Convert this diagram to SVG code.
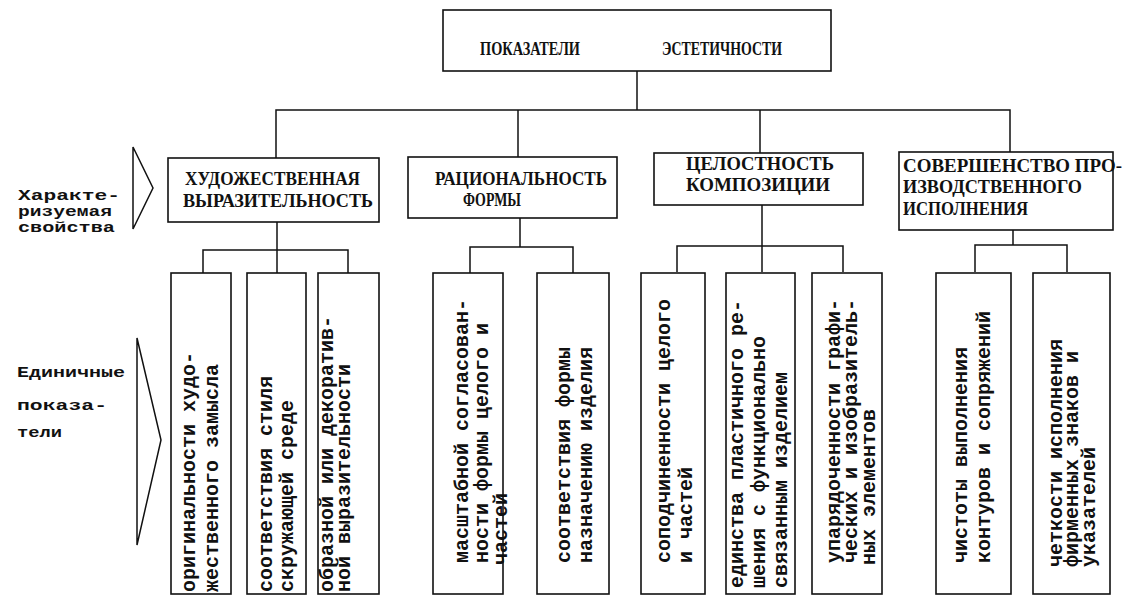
<svg xmlns="http://www.w3.org/2000/svg" width="1123" height="597" viewBox="0 0 1123 597">
<defs>
<style>
.bx{fill:none;stroke:#111;stroke-width:1.6}
.cn{fill:none;stroke:#111;stroke-width:1.5}
.cap{font-family:"Liberation Serif","DejaVu Serif",serif;font-weight:bold;font-size:19px;fill:#111}
.lab{font-family:"Liberation Mono","DejaVu Sans Mono",monospace;font-weight:bold;font-size:15px;fill:#111}
.rt{font-family:"Liberation Mono","DejaVu Sans Mono",monospace;font-weight:bold;font-size:20px;fill:#111}
</style>
</defs>
<rect width="1123" height="597" fill="#fff"/>

<g id="connectors">
<polyline class="cn" points="637,71 637,110"/>
<polyline class="cn" points="276,158 276,110 1010,110 1010,152"/>
<line class="cn" x1="518" y1="110" x2="518" y2="157"/>
<line class="cn" x1="760" y1="110" x2="760" y2="153"/>
<polyline class="cn" points="277,222 277,273"/>
<polyline class="cn" points="203,273 203,250 348,250 348,273"/>
<polyline class="cn" points="520,218 520,247"/>
<polyline class="cn" points="470,273 470,247 573,247 573,273"/>
<polyline class="cn" points="762,205 762,272"/>
<polyline class="cn" points="677,272 677,246 843,246 843,272"/>
<polyline class="cn" points="1013,230 1013,245"/>
<polyline class="cn" points="975,272 975,245 1067,245 1067,272"/>
</g>

<g id="label-harakter">
<polygon class="cn" points="133,147 153,188 133,229"/>
<text class="lab" x="18" y="200" textLength="102" lengthAdjust="spacingAndGlyphs">Характе-</text>
<text class="lab" x="18" y="216" textLength="94" lengthAdjust="spacingAndGlyphs">ризуемая</text>
<text class="lab" x="18" y="232" textLength="97" lengthAdjust="spacingAndGlyphs">свойства</text>
</g>
<g id="label-edinich">
<polygon class="cn" points="137,338 161,440 137,545"/>
<text class="lab" x="17" y="377" textLength="108" lengthAdjust="spacingAndGlyphs">Единичные</text>
<text class="lab" x="17" y="410" textLength="90" lengthAdjust="spacingAndGlyphs">показа-</text>
<text class="lab" x="17" y="437" textLength="45" lengthAdjust="spacingAndGlyphs">тели</text>
</g>

<g id="root">
<rect class="bx" x="443" y="10" width="388" height="61"/>
<text class="cap" x="480" y="55" font-size="18" textLength="100" lengthAdjust="spacingAndGlyphs">ПОКАЗАТЕЛИ</text>
<text class="cap" x="662" y="55" font-size="18" textLength="120" lengthAdjust="spacingAndGlyphs">ЭСТЕТИЧНОСТИ</text>
</g>

<g id="n1">
<rect class="bx" x="168" y="158" width="211" height="64"/>
<text class="cap" x="185" y="185" textLength="175" lengthAdjust="spacingAndGlyphs">ХУДОЖЕСТВЕННАЯ</text>
<text class="cap" x="183" y="207" textLength="190" lengthAdjust="spacingAndGlyphs">ВЫРАЗИТЕЛЬНОСТЬ</text>
</g>
<g id="n2">
<rect class="bx" x="408" y="157" width="209" height="61"/>
<text class="cap" x="435" y="185" textLength="172" lengthAdjust="spacingAndGlyphs">РАЦИОНАЛЬНОСТЬ</text>
<text class="cap" x="463" y="206" textLength="58" lengthAdjust="spacingAndGlyphs">ФОРМЫ</text>
</g>
<g id="n3">
<rect class="bx" x="654" y="153" width="209" height="52"/>
<text class="cap" x="686" y="170" font-size="15" textLength="148" lengthAdjust="spacingAndGlyphs">ЦЕЛОСТНОСТЬ</text>
<text class="cap" x="686" y="191" font-size="15" textLength="144" lengthAdjust="spacingAndGlyphs">КОМПОЗИЦИИ</text>
</g>
<g id="n4">
<rect class="bx" x="899" y="152" width="214" height="78"/>
<text class="cap" x="903" y="172" textLength="219" lengthAdjust="spacingAndGlyphs">СОВЕРШЕНСТВО ПРО-</text>
<text class="cap" x="903" y="193" textLength="179" lengthAdjust="spacingAndGlyphs">ИЗВОДСТВЕННОГО</text>
<text class="cap" x="903" y="215" textLength="125" lengthAdjust="spacingAndGlyphs">ИСПОЛНЕНИЯ</text>
</g>

<g id="s1">
<rect class="bx" x="171" y="273" width="60" height="321"/>
<text class="rt" transform="translate(195,592) rotate(-90)">оригинальности худо-</text>
<text class="rt" transform="translate(218,592) rotate(-90)">жественного замысла</text>
</g>
<g id="s2">
<rect class="bx" x="247" y="273" width="59" height="321"/>
<text class="rt" transform="translate(272,592) rotate(-90)">соответствия стиля</text>
<text class="rt" transform="translate(293,592) rotate(-90)">скружающей среде</text>
</g>
<g id="s3">
<rect class="bx" x="318" y="273" width="61" height="321"/>
<text class="rt" transform="translate(333,592) rotate(-90)">образной или декоратив-</text>
<text class="rt" transform="translate(350,592) rotate(-90)">ной выразительности</text>
</g>
<g id="s4">
<rect class="bx" x="433" y="273" width="70" height="321"/>
<text class="rt" transform="translate(468,563) rotate(-90)">масштабной согласован-</text>
<text class="rt" transform="translate(488,563) rotate(-90)">ности формы целого и</text>
<text class="rt" transform="translate(507,565) rotate(-90)">частей</text>
</g>
<g id="s5">
<rect class="bx" x="537" y="273" width="72" height="321"/>
<text class="rt" transform="translate(570,563) rotate(-90)">соответствия формы</text>
<text class="rt" transform="translate(592,563) rotate(-90)">назначению изделия</text>
</g>
<g id="s6">
<rect class="bx" x="641" y="273" width="64" height="321"/>
<text class="rt" transform="translate(670,563) rotate(-90)">соподчиненности целого</text>
<text class="rt" transform="translate(692,563) rotate(-90)">и частей</text>
</g>
<g id="s7">
<rect class="bx" x="726" y="273" width="69" height="321"/>
<text class="rt" transform="translate(743,588) rotate(-90)">единства пластичного ре-</text>
<text class="rt" transform="translate(765,588) rotate(-90)">шения с функционально</text>
<text class="rt" transform="translate(787,588) rotate(-90)">связанным изделием</text>
</g>
<g id="s8">
<rect class="bx" x="812" y="273" width="70" height="321"/>
<text class="rt" transform="translate(840,563) rotate(-90)">упарядоченности графи-</text>
<text class="rt" transform="translate(857,563) rotate(-90)">ческих и изобразитель-</text>
<text class="rt" transform="translate(875,565) rotate(-90)">ных элементов</text>
</g>
<g id="s9">
<rect class="bx" x="936" y="273" width="75" height="321"/>
<text class="rt" transform="translate(967,563) rotate(-90)">чистоты выполнения</text>
<text class="rt" transform="translate(990,563) rotate(-90)">контуров и сопряжений</text>
</g>
<g id="s10">
<rect class="bx" x="1033" y="273" width="77" height="321"/>
<text class="rt" transform="translate(1062,567) rotate(-90)">четкости исполнения</text>
<text class="rt" transform="translate(1078,567) rotate(-90)">фирменных знаков и</text>
<text class="rt" transform="translate(1095,567) rotate(-90)">указателей</text>
</g>
</svg>
